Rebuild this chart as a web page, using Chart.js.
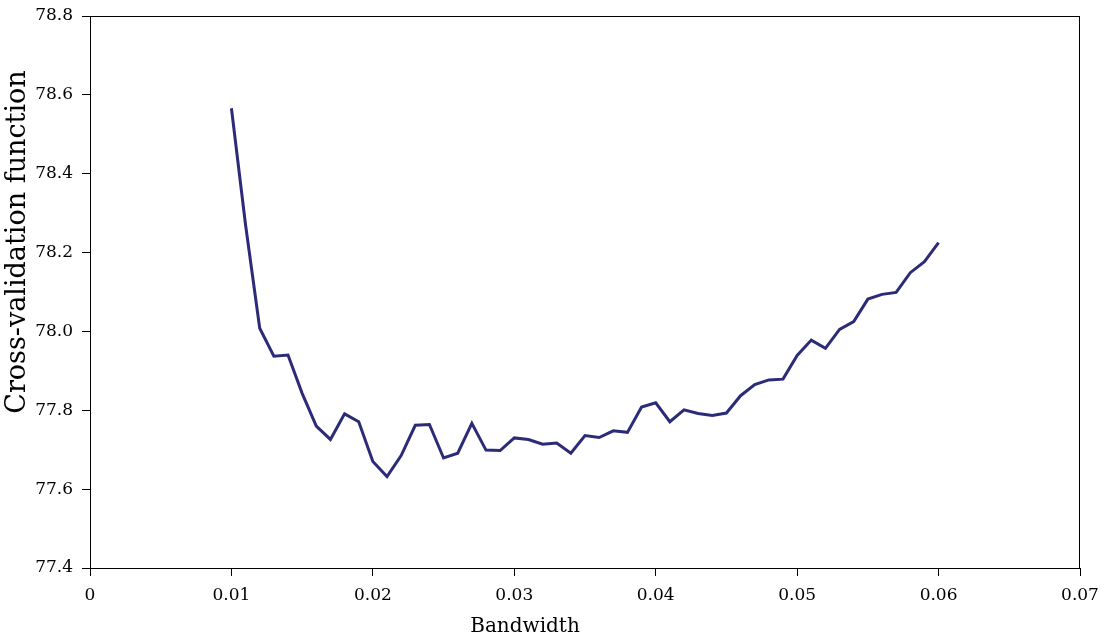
<!DOCTYPE html>
<html>
<head>
<meta charset="utf-8">
<script src="https://cdn.jsdelivr.net/npm/chart.js@4"></script>
<style>
    html, body { margin: 0; padding: 0; background: #ffffff; }
    #wrap { width: 1106px; height: 641px; }
</style>
</head>
<body>
<div id="wrap"><canvas id="cvChart" width="1106" height="641"></canvas></div>
<script>
// bandwidth grid and the cross-validation score at each one
const bandwidths = [
    0.010, 0.011, 0.012, 0.013, 0.014, 0.015, 0.016, 0.017, 0.018, 0.019,
    0.020, 0.021, 0.022, 0.023, 0.024, 0.025, 0.026, 0.027, 0.028, 0.029,
    0.030, 0.031, 0.032, 0.033, 0.034, 0.035, 0.036, 0.037, 0.038, 0.039,
    0.040, 0.041, 0.042, 0.043, 0.044, 0.045, 0.046, 0.047, 0.048, 0.049,
    0.050, 0.051, 0.052, 0.053, 0.054, 0.055, 0.056, 0.057, 0.058, 0.059,
    0.060,
];
const cvValues = [
    78.566, 78.270, 78.008, 77.937, 77.940, 77.843, 77.760, 77.726, 77.791, 77.771,
    77.670, 77.632, 77.685, 77.762, 77.764, 77.679, 77.691, 77.767, 77.699, 77.698,
    77.730, 77.726, 77.714, 77.717, 77.691, 77.736, 77.731, 77.748, 77.744, 77.808,
    77.819, 77.771, 77.801, 77.792, 77.787, 77.793, 77.837, 77.865, 77.877, 77.879,
    77.939, 77.978, 77.957, 78.005, 78.025, 78.082, 78.094, 78.099, 78.149, 78.177,
    78.225,
];
const xTicks = [0, 0.01, 0.02, 0.03, 0.04, 0.05, 0.06, 0.07];
const yTicks = [77.4, 77.6, 77.8, 78.0, 78.2, 78.4, 78.6, 78.8];

const xTitle = "Bandwidth";
const yTitle = "Cross-validation function";

const serif = "'DejaVu Serif', 'Liberation Serif', serif";

// box around the plot area plus the two axis titles
const frameAndTitles = {
    id: "frameAndTitles",
    afterDraw(chart) {
        const { ctx, chartArea } = chart;
        ctx.save();
        ctx.strokeStyle = "#000000";
        ctx.lineWidth = 1;
        ctx.strokeRect(chartArea.left + 0.5, chartArea.top + 0.5,
            chartArea.right - chartArea.left - 1, chartArea.bottom - chartArea.top);

        ctx.fillStyle = "#000000";
        ctx.font = "20px " + serif;
        ctx.textAlign = "center";
        ctx.textBaseline = "middle";
        ctx.fillText(xTitle, 525, 627);

        ctx.translate(18, 242);
        ctx.rotate(-Math.PI / 2);
        ctx.font = "27px " + serif;
        ctx.fillText(yTitle, 0, 0);
        ctx.restore();
    },
};

new Chart(document.getElementById("cvChart"), {
    type: "line",
    data: {
        datasets: [
            {
                label: yTitle,
                data: bandwidths.map((b, i) => ({ x: b, y: cvValues[i] })),
                borderColor: "#2b2b78",
                borderWidth: 3,
                pointRadius: 0,
                tension: 0,
                fill: false,
            },
        ],
    },
    options: {
        responsive: false,
        animation: false,
        layout: {
            padding: { top: 16, right: 26, left: 0, bottom: 0 },
        },
        scales: {
            x: {
                type: "linear",
                min: 0,
                max: 0.07,
                afterBuildTicks: (scale) => {
                    scale.ticks = xTicks.map((v) => ({ value: v }));
                },
                afterFit: (scale) => {
                    scale.height = 73;
                    scale.paddingLeft = 0;
                    scale.paddingRight = 0;
                },
                ticks: {
                    color: "#000000",
                    padding: 9,
                    maxRotation: 0,
                    font: { family: serif, size: 17 },
                    callback: (v) => String(parseFloat(Number(v).toFixed(2))),
                },
                grid: {
                    drawOnChartArea: false,
                    drawTicks: true,
                    tickLength: 8,
                    color: "#000000",
                },
                border: { color: "#000000", width: 1 },
            },
            y: {
                min: 77.4,
                max: 78.8,
                afterBuildTicks: (scale) => {
                    scale.ticks = yTicks.map((v) => ({ value: v }));
                },
                afterFit: (scale) => {
                    scale.width = 90;
                    scale.paddingTop = 0;
                    scale.paddingBottom = 0;
                },
                ticks: {
                    color: "#000000",
                    padding: 9,
                    font: { family: serif, size: 17 },
                    callback: (v) => Number(v).toFixed(1),
                },
                grid: {
                    drawOnChartArea: false,
                    drawTicks: true,
                    tickLength: 8,
                    color: "#000000",
                },
                border: { color: "#000000", width: 1 },
            },
        },
        plugins: {
            legend: { display: false },
            tooltip: { enabled: false },
        },
    },
    plugins: [frameAndTitles],
});
</script>
</body>
</html>
